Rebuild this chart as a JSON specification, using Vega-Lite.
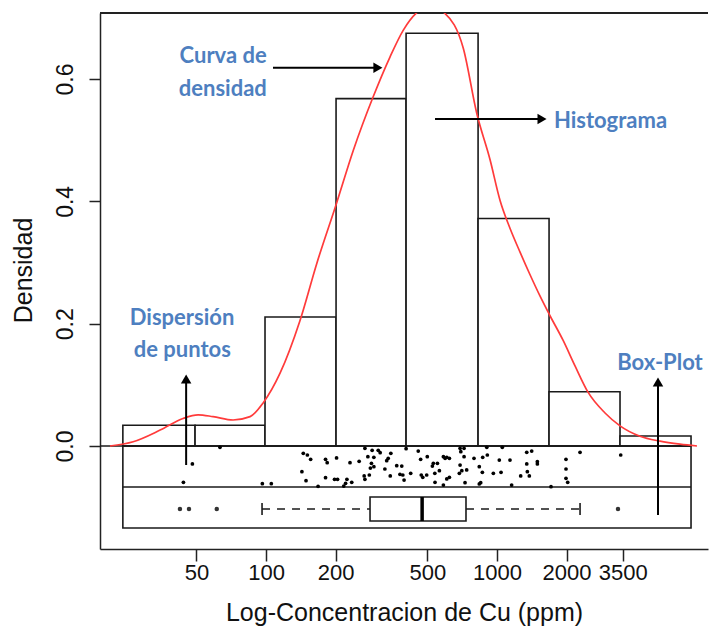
{
  "$schema": "https://vega.github.io/schema/vega-lite/v6.json",
  "width": 608,
  "height": 536,
  "autosize": "none",
  "padding": {"left": 100, "top": 13, "right": 1, "bottom": 79},
  "background": "white",
  "config": {
    "view": {"stroke": null},
    "axis": {"grid": false, "labelFont": "Liberation Sans", "titleFont": "Liberation Sans", "labelColor": "#111", "titleColor": "#111", "domainColor": "#222", "tickColor": "#222", "domainWidth": 1.5, "tickWidth": 1.5, "titleFontWeight": "normal"}
  },
  "datasets": {
    "hist": [
      {"lo": 24.0, "hi": 49.3, "dens": 0.034},
      {"lo": 49.3, "hi": 99.0, "dens": 0.034},
      {"lo": 99.0, "hi": 201, "dens": 0.211},
      {"lo": 201, "hi": 404, "dens": 0.568},
      {"lo": 404, "hi": 828, "dens": 0.675},
      {"lo": 828, "hi": 1680, "dens": 0.372},
      {"lo": 1680, "hi": 3408, "dens": 0.0888},
      {"lo": 3408, "hi": 6917, "dens": 0.0163}
    ],
    "curve": [
      {"c": 21.1, "d": 0}, {"c": 26.6, "d": 0.007}, {"c": 34.8, "d": 0.026}, {"c": 43.7, "d": 0.045},
      {"c": 50.8, "d": 0.051}, {"c": 59.0, "d": 0.048}, {"c": 72.0, "d": 0.0425}, {"c": 85.3, "d": 0.048},
      {"c": 97.0, "d": 0.070}, {"c": 115, "d": 0.119}, {"c": 140, "d": 0.204}, {"c": 166, "d": 0.299},
      {"c": 202, "d": 0.397}, {"c": 239, "d": 0.484}, {"c": 291, "d": 0.571}, {"c": 344, "d": 0.636},
      {"c": 393, "d": 0.680}, {"c": 445, "d": 0.707}, {"c": 513, "d": 0.718}, {"c": 596, "d": 0.707},
      {"c": 715, "d": 0.650}, {"c": 817, "d": 0.544}, {"c": 933, "d": 0.468}, {"c": 1030, "d": 0.402},
      {"c": 1138, "d": 0.356}, {"c": 1258, "d": 0.317}, {"c": 1390, "d": 0.280}, {"c": 1536, "d": 0.245},
      {"c": 1696, "d": 0.213}, {"c": 1931, "d": 0.173}, {"c": 2176, "d": 0.131}, {"c": 2477, "d": 0.088},
      {"c": 2935, "d": 0.054}, {"c": 3408, "d": 0.033}, {"c": 4159, "d": 0.016}, {"c": 5077, "d": 0.008},
      {"c": 6198, "d": 0.003}, {"c": 7340, "d": 0}
    ],
    "strip": [
      {"c": 63.2, "j": -0.0021}, {"c": 48.0, "j": -0.0294}, {"c": 43.9, "j": -0.0593}, {"c": 96.4, "j": -0.0616},
      {"c": 105.4, "j": -0.0616}, {"c": 145, "j": -0.0119}, {"c": 151, "j": -0.0147}, {"c": 156, "j": -0.0217},
      {"c": 143, "j": -0.0420}, {"c": 149, "j": -0.0567}, {"c": 168, "j": -0.066}, {"c": 181, "j": -0.0217},
      {"c": 184, "j": -0.0273}, {"c": 202, "j": -0.0196}, {"c": 181, "j": -0.0518}, {"c": 198, "j": -0.0544},
      {"c": 204, "j": -0.0544}, {"c": 224, "j": -0.0544}, {"c": 221, "j": -0.0610}, {"c": 217, "j": -0.0654},
      {"c": 235, "j": -0.0593}, {"c": 231, "j": -0.0273}, {"c": 253, "j": -0.0250}, {"c": 268, "j": -0.0038},
      {"c": 288, "j": -0.0070}, {"c": 306, "j": -0.0070}, {"c": 312, "j": -0.0110}, {"c": 276, "j": -0.0175},
      {"c": 293, "j": -0.0185}, {"c": 347, "j": -0.0119}, {"c": 338, "j": -0.0201}, {"c": 333, "j": -0.0240},
      {"c": 286, "j": -0.0283}, {"c": 293, "j": -0.0338}, {"c": 283, "j": -0.0360}, {"c": 327, "j": -0.0376},
      {"c": 368, "j": -0.0322}, {"c": 280, "j": -0.0474}, {"c": 266, "j": -0.0490}, {"c": 268, "j": -0.0544},
      {"c": 345, "j": -0.0490}, {"c": 380, "j": -0.0463}, {"c": 404, "j": -0.0044}, {"c": 456, "j": -0.0082},
      {"c": 387, "j": -0.0327}, {"c": 391, "j": -0.0474}, {"c": 396, "j": -0.0556}, {"c": 423, "j": -0.0446},
      {"c": 467, "j": -0.0217}, {"c": 499, "j": -0.0175}, {"c": 470, "j": -0.0474}, {"c": 477, "j": -0.0512},
      {"c": 496, "j": -0.0474}, {"c": 530, "j": -0.0283}, {"c": 552, "j": -0.0283}, {"c": 525, "j": -0.0327},
      {"c": 538, "j": -0.0446}, {"c": 563, "j": -0.0404}, {"c": 539, "j": -0.0593}, {"c": 586, "j": -0.0175},
      {"c": 596, "j": -0.0201}, {"c": 606, "j": -0.0185}, {"c": 622, "j": -0.0201}, {"c": 586, "j": -0.0638},
      {"c": 606, "j": -0.0539}, {"c": 622, "j": -0.0512}, {"c": 692, "j": -0.0038}, {"c": 720, "j": -0.0038},
      {"c": 697, "j": -0.0093}, {"c": 720, "j": -0.0175}, {"c": 692, "j": -0.0311}, {"c": 687, "j": -0.0446},
      {"c": 704, "j": -0.0404}, {"c": 739, "j": -0.0392}, {"c": 727, "j": -0.0600}, {"c": 795, "j": -0.0201},
      {"c": 867, "j": -0.0185}, {"c": 908, "j": -0.0147}, {"c": 838, "j": -0.0338}, {"c": 864, "j": -0.0430},
      {"c": 850, "j": -0.0600}, {"c": 838, "j": -0.0621}, {"c": 903, "j": -0.0021}, {"c": 1054, "j": -0.0021},
      {"c": 1023, "j": -0.0229}, {"c": 1138, "j": -0.0229}, {"c": 964, "j": -0.0446}, {"c": 1041, "j": -0.0430},
      {"c": 1157, "j": -0.0638}, {"c": 1266, "j": -0.0490}, {"c": 1345, "j": -0.0103}, {"c": 1413, "j": -0.0082},
      {"c": 1345, "j": -0.0294}, {"c": 1495, "j": -0.0257}, {"c": 1495, "j": -0.0294}, {"c": 1353, "j": -0.0420},
      {"c": 1380, "j": -0.0490}, {"c": 1713, "j": -0.0665}, {"c": 1989, "j": -0.0217}, {"c": 1989, "j": -0.0376},
      {"c": 1989, "j": -0.0528}, {"c": 2023, "j": -0.0593}, {"c": 2288, "j": -0.0103}, {"c": 3432, "j": -0.0147}
    ],
    "box": [{"lo": 96.1, "q1": 282, "med": 474, "q3": 734, "hi": 2288}],
    "whiskers": [{"from": 96.1, "to": 282}, {"from": 734, "to": 2288}],
    "outliers": [{"c": 42.4}, {"c": 46.4}, {"c": 61.2}, {"c": 3340}],
    "arrows": [
      {"x1": 107.2, "x2": 305, "y1": 0.6185, "y2": 0.6185, "head": "triangle-right"},
      {"x1": 539, "x2": 1566, "y1": 0.5346, "y2": 0.5346, "head": "triangle-right"},
      {"x1": 45.1, "x2": 45.1, "y1": -0.0311, "y2": 0.1095, "head": "triangle-up"},
      {"x1": 4977, "x2": 4977, "y1": -0.1128, "y2": 0.1046, "head": "triangle-up"}
    ],
    "notes": [
      {"label": "Curva de", "x": 65.2, "y": 0.6261},
      {"label": "densidad", "x": 65.0, "y": 0.5722},
      {"label": "Histograma", "x": 3099, "y": 0.5199},
      {"label": "Dispersión", "x": 43.3, "y": 0.1978},
      {"label": "de puntos", "x": 43.4, "y": 0.1455},
      {"label": "Box-Plot", "x": 5077, "y": 0.1242}
    ]
  },
  "layer": [
    {
      "data": {"name": "hist"},
      "mark": {"type": "rect", "fill": "white", "stroke": "#1a1a1a", "strokeWidth": 1.6},
      "encoding": {
        "x": {"field": "lo", "type": "quantitative",
          "scale": {"type": "log", "domain": [19.11, 8192], "nice": false},
          "axis": {"title": "Log-Concentracion de Cu (ppm)", "values": [50, 100, 200, 500, 1000, 2000, 3500], "format": "d",
            "labelFontSize": 22, "titleFontSize": 25, "tickSize": 12, "labelPadding": 18, "labelBaseline": "alphabetic",
            "labelFlush": false, "labelOverlap": false, "titleY": 71, "titleBaseline": "alphabetic",
            "encode": {"ticks": {"update": {"y": {"value": -21}, "y2": {"value": -9}}}}}},
        "x2": {"field": "hi"},
        "y": {"field": "dens", "type": "quantitative",
          "scale": {"domain": [-0.1684, 0.708], "nice": false, "zero": false},
          "axis": {"title": "Densidad", "values": [0, 0.2, 0.4, 0.6], "format": ".1f", "labelFontSize": 23, "titleFontSize": 25,
            "tickSize": 11, "labelPadding": 17, "labelAngle": -90, "labelAlign": "center", "labelBaseline": "alphabetic",
            "titleAngle": 270, "titleX": -69, "titleY": 257, "titleAlign": "center", "titleBaseline": "alphabetic"}},
        "y2": {"datum": 0}
      }
    },
    {
      "data": {"values": [{}]},
      "mark": {"type": "rule", "color": "#1a1a1a", "strokeWidth": 1.6},
      "encoding": {"x": {"datum": 19.11, "type": "quantitative"}, "x2": {"datum": 6917}, "y": {"datum": 0, "type": "quantitative"}}
    },
    {
      "data": {"values": [{}]},
      "mark": {"type": "rule", "color": "#222", "strokeWidth": 2},
      "encoding": {"x": {"datum": 19.11, "type": "quantitative"}, "x2": {"datum": 8192}, "y": {"datum": 0.708, "type": "quantitative"}}
    },
    {
      "data": {"values": [{}]},
      "mark": {"type": "rect", "fill": null, "stroke": "#1a1a1a", "strokeWidth": 1.6},
      "encoding": {"x": {"datum": 24.0, "type": "quantitative"}, "x2": {"datum": 6917}, "y": {"datum": 0, "type": "quantitative"}, "y2": {"datum": -0.134}}
    },
    {
      "data": {"values": [{}]},
      "mark": {"type": "rule", "color": "#1a1a1a", "strokeWidth": 1.6},
      "encoding": {"x": {"datum": 24.0, "type": "quantitative"}, "x2": {"datum": 6917}, "y": {"datum": -0.067, "type": "quantitative"}}
    },
    {
      "data": {"name": "strip"},
      "mark": {"type": "circle", "color": "#000", "opacity": 1, "size": 14},
      "encoding": {"x": {"field": "c", "type": "quantitative"}, "y": {"field": "j", "type": "quantitative"}}
    },
    {
      "data": {"name": "whiskers"},
      "mark": {"type": "rule", "color": "#1a1a1a", "strokeWidth": 1.6, "strokeDash": [8, 7]},
      "encoding": {"x": {"field": "from", "type": "quantitative"}, "x2": {"field": "to"}, "y": {"datum": -0.103, "type": "quantitative"}}
    },
    {
      "data": {"name": "box"},
      "mark": {"type": "rect", "fill": "white", "stroke": "#1a1a1a", "strokeWidth": 1.6},
      "encoding": {"x": {"field": "q1", "type": "quantitative"}, "x2": {"field": "q3"}, "y": {"datum": -0.0834, "type": "quantitative"}, "y2": {"datum": -0.1226}}
    },
    {
      "data": {"name": "box"},
      "mark": {"type": "rule", "color": "#000", "strokeWidth": 3.5},
      "encoding": {"x": {"field": "med", "type": "quantitative"}, "y": {"datum": -0.0834, "type": "quantitative"}, "y2": {"datum": -0.1226}}
    },
    {
      "data": {"name": "box"},
      "mark": {"type": "rule", "color": "#1a1a1a", "strokeWidth": 1.6},
      "encoding": {"x": {"field": "lo", "type": "quantitative"}, "y": {"datum": -0.0932, "type": "quantitative"}, "y2": {"datum": -0.1128}}
    },
    {
      "data": {"name": "box"},
      "mark": {"type": "rule", "color": "#1a1a1a", "strokeWidth": 1.6},
      "encoding": {"x": {"field": "hi", "type": "quantitative"}, "y": {"datum": -0.0932, "type": "quantitative"}, "y2": {"datum": -0.1128}}
    },
    {
      "data": {"name": "outliers"},
      "mark": {"type": "circle", "color": "#333", "opacity": 1, "size": 20},
      "encoding": {"x": {"field": "c", "type": "quantitative"}, "y": {"datum": -0.103, "type": "quantitative"}}
    },
    {
      "data": {"name": "curve"},
      "mark": {"type": "line", "color": "#FF3B3B", "strokeWidth": 1.7, "interpolate": "monotone", "clip": true},
      "encoding": {"x": {"field": "c", "type": "quantitative"}, "y": {"field": "d", "type": "quantitative"}}
    },
    {
      "data": {"name": "arrows"},
      "mark": {"type": "rule", "color": "black", "strokeWidth": 2},
      "encoding": {"x": {"field": "x1", "type": "quantitative"}, "x2": {"field": "x2"}, "y": {"field": "y1", "type": "quantitative"}, "y2": {"field": "y2"}}
    },
    {
      "data": {"name": "arrows"},
      "mark": {"type": "point", "filled": true, "color": "black", "opacity": 1, "size": 110},
      "encoding": {"x": {"field": "x2", "type": "quantitative"}, "y": {"field": "y2", "type": "quantitative"}, "shape": {"field": "head", "type": "nominal", "scale": null}}
    },
    {
      "data": {"name": "notes"},
      "mark": {"type": "text", "font": "Lato", "fontWeight": "bold", "fontSize": 22, "color": "#4E7FC0", "align": "center", "baseline": "alphabetic"},
      "encoding": {"x": {"field": "x", "type": "quantitative"}, "y": {"field": "y", "type": "quantitative"}, "text": {"field": "label"}}
    }
  ]
}
